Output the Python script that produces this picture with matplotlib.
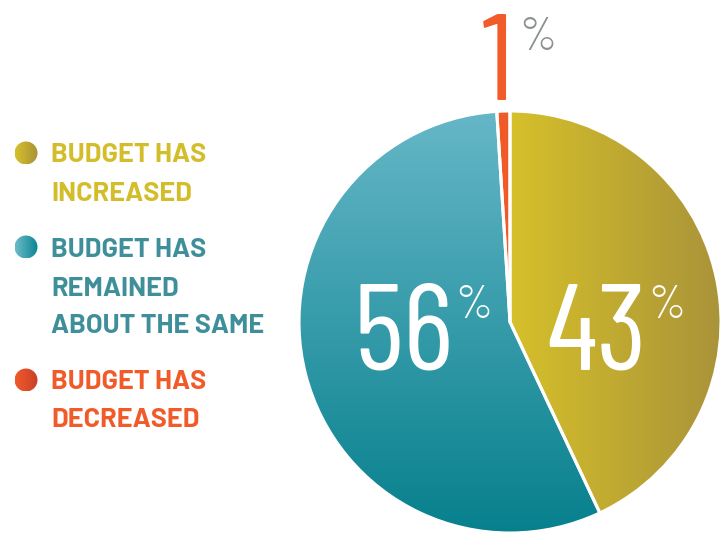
import numpy as np
import matplotlib
matplotlib.use("Agg")
import matplotlib.pyplot as plt
from matplotlib.patches import Circle
from matplotlib.colors import LinearSegmentedColormap

# Survey shares
categories = ["BUDGET HAS\nINCREASED", "BUDGET HAS\nREMAINED\nABOUT THE SAME", "BUDGET HAS\nDECREASED"]
values = [43, 56, 1]
value_labels = ["43", "56", "1"]

# gradient endpoints (start, end) for each slice
grad_colors = [("#D6C02A", "#A8923A"), ("#66B7C7", "#07808D"), ("#F15A29", "#F05A28")]
text_colors = ["#D4BD2A", "#3F8F9B", "#F15A29"]
grad_dirs = ["h", "v", "h"]
legend_grad = [("#D6C02A", "#A8923A"), ("#6CBCCB", "#0A8390"), ("#F15A29", "#C8402A")]

W, H = 726, 533
fig = plt.figure(figsize=(W / 100, H / 100), dpi=100)
ax = fig.add_axes([0, 0, 1, 1])

cx, cy, R = 510, 533 - 322, 211
wedges, _ = ax.pie(values, startangle=90, counterclock=False, center=(cx, cy),
                   radius=R, colors=[c[0] for c in grad_colors],
                   explode=[0, 0, 0.012],
                   wedgeprops=dict(edgecolor="white", linewidth=2.2))
ax.set_xlim(0, W)
ax.set_ylim(0, H)
ax.set_aspect("equal")
ax.axis("off")


def gradient_fill(patch, c0, c1, direction, zorder=2):
    path = patch.get_path().transformed(patch.get_patch_transform())
    x0, y0 = path.vertices.min(axis=0)
    x1, y1 = path.vertices.max(axis=0)
    cmap = LinearSegmentedColormap.from_list("g", [c0, c1])
    t = np.linspace(0, 1, 256)
    if direction == "h":
        img = t[None, :]
    else:
        img = t[::-1][:, None]  # light at top, dark at bottom
    im = ax.imshow(img, cmap=cmap, extent=[x0, x1, y0, y1], origin="lower",
                   aspect="auto", zorder=zorder, interpolation="bilinear")
    im.set_clip_path(patch)
    return im


for w, (c0, c1), d in zip(wedges, grad_colors, grad_dirs):
    gradient_fill(w, c0, c1, d)
    w.set_zorder(3)
    w.set_facecolor("none")

ax.set_xlim(0, W)
ax.set_ylim(0, H)

num_font = ["Barlow Condensed", "Roboto Condensed", "DejaVu Sans"]
bold_font = ["Barlow", "Roboto", "DejaVu Sans"]
NUM_SIZE = 88
PCT_SIZE = 34
NUM_W = 400
PCT_W = 300

# large value labels inside the slices
ax.text(546, 533 - 370, value_labels[0], color="white", fontsize=NUM_SIZE, fontweight=NUM_W,
        family=num_font, ha="left", va="baseline", zorder=5)
ax.text(648, 533 - 318, "%", color="white", fontsize=PCT_SIZE, fontweight=PCT_W,
        family=num_font, ha="left", va="baseline", zorder=5)
ax.text(354, 533 - 370, value_labels[1], color="white", fontsize=NUM_SIZE, fontweight=NUM_W,
        family=num_font, ha="left", va="baseline", zorder=5)
ax.text(455, 533 - 318, "%", color="white", fontsize=PCT_SIZE, fontweight=PCT_W,
        family=num_font, ha="left", va="baseline", zorder=5)
# small slice label above the pie
ax.text(482, 533 - 100, value_labels[2], color=text_colors[2], fontsize=NUM_SIZE, fontweight=NUM_W,
        family=num_font, ha="left", va="baseline", zorder=5)
ax.text(519, 533 - 50, "%", color="#8C9090", fontsize=PCT_SIZE, fontweight=PCT_W,
        family=num_font, ha="left", va="baseline", zorder=5)

# legend
marker_y = [153, 247, 380]
line_baselines = [[162, 201], [257, 296, 333], [389, 427]]
for cat, my, bases, (c0, c1), tc in zip(categories, marker_y, line_baselines,
                                        legend_grad, text_colors):
    circ = Circle((26, H - my), 11.5, facecolor="none", edgecolor="none", zorder=3)
    ax.add_patch(circ)
    gradient_fill(circ, c0, c1, "h")
    for line, b in zip(cat.split("\n"), bases):
        ax.text(51, H - b, line, color=tc, fontsize=19.5, fontweight="bold",
                family=bold_font, ha="left", va="baseline", zorder=5)

ax.set_xlim(0, W)
ax.set_ylim(0, H)
fig.savefig("out.png", dpi=100)
